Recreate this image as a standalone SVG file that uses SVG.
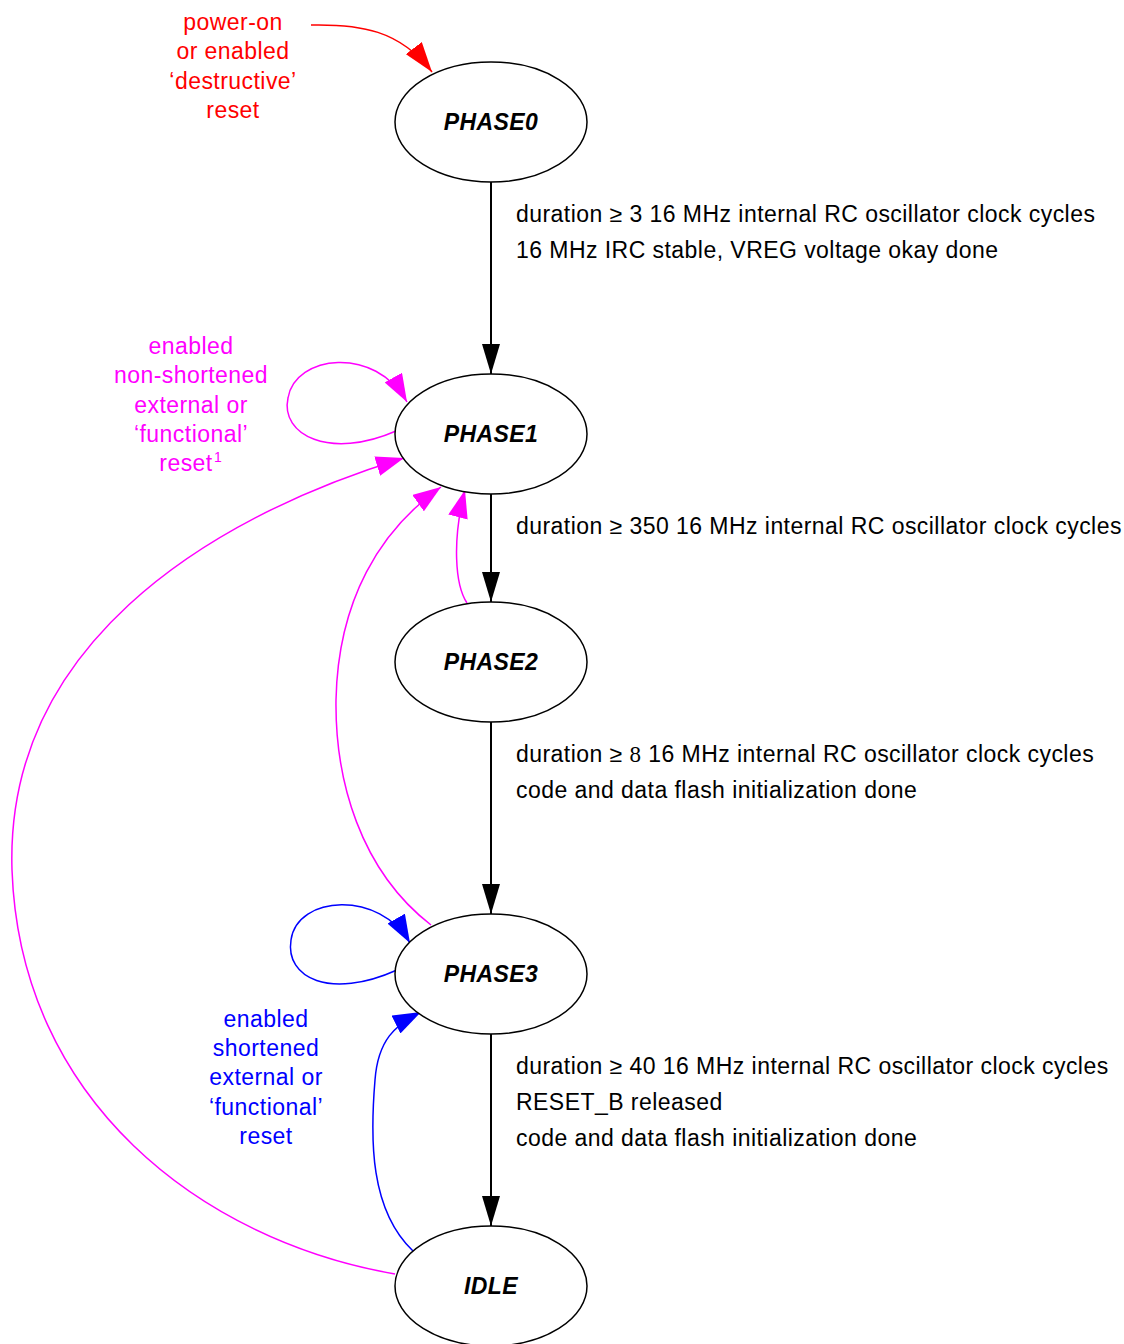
<svg xmlns="http://www.w3.org/2000/svg" width="1124" height="1344" viewBox="0 0 1124 1344">
  <style>
    text { letter-spacing: 0.45px; }
    .node ellipse { fill: #fff; stroke: #000; stroke-width: 1.5; }
    .node text { font-family: "Liberation Sans", Arial, sans-serif; font-size: 23px; font-weight: bold; font-style: italic; text-anchor: middle; fill: #000; }
    .lbl { font-family: "Liberation Sans", Arial, sans-serif; font-size: 23px; fill: #000; }
    .clbl { font-family: "Liberation Sans", Arial, sans-serif; font-size: 23px; text-anchor: middle; }
    .edge { fill: none; }
    .k { stroke: #000; stroke-width: 2; }
    .r { stroke: #f00; stroke-width: 1.5; }
    .m { stroke: #f0f; stroke-width: 1.5; }
    .b { stroke: #00f; stroke-width: 1.5; }
  </style>
  <defs>
    <marker id="ak" viewBox="0 0 30 18" refX="30" refY="9" markerWidth="30" markerHeight="18" markerUnits="userSpaceOnUse" orient="auto">
      <path d="M0,0 L30,9 L0,18 z" fill="#000"/>
    </marker>
    <marker id="ar" viewBox="0 0 30 20" refX="30" refY="10" markerWidth="30" markerHeight="20" markerUnits="userSpaceOnUse" orient="auto">
      <path d="M0,0 L30,10 L0,20 z" fill="#f00"/>
    </marker>
    <marker id="am" viewBox="0 0 28 20" refX="28" refY="10" markerWidth="28" markerHeight="20" markerUnits="userSpaceOnUse" orient="auto">
      <path d="M0,0 L28,10 L0,20 z" fill="#f0f"/>
    </marker>
    <marker id="ab" viewBox="0 0 28 20" refX="28" refY="10" markerWidth="28" markerHeight="20" markerUnits="userSpaceOnUse" orient="auto">
      <path d="M0,0 L28,10 L0,20 z" fill="#00f"/>
    </marker>
  </defs>

  <!-- connectors -->
  <g id="edges">
    <path class="edge k" d="M491,182 L491,374" marker-end="url(#ak)"/>
    <path class="edge k" d="M491,494 L491,602" marker-end="url(#ak)"/>
    <path class="edge k" d="M491,722 L491,914" marker-end="url(#ak)"/>
    <path class="edge k" d="M491,1034 L491,1226" marker-end="url(#ak)"/>

    <path class="edge r" d="M311,25 C360,24 400,30 432,72" marker-end="url(#ar)"/>

    <path class="edge m" d="M396,431 C330,460 280,435 288,398 C295,355 375,345 407,402" marker-end="url(#am)"/>
    <path class="edge m" d="M395,1274 C200,1240 20,1100 12,870 C5,650 200,520 404,458" marker-end="url(#am)"/>
    <path class="edge m" d="M431,925 C360,870 335,780 336,700 C338,600 380,530 441,487" marker-end="url(#am)"/>
    <path class="edge m" d="M467,603 C455,585 452,540 465,490" marker-end="url(#am)"/>

    <path class="edge b" d="M397,970 C330,1000 285,978 291,940 C297,895 380,890 410,943" marker-end="url(#ab)"/>
    <path class="edge b" d="M413,1251 C370,1210 370,1140 375,1080 C378,1040 395,1025 421,1012" marker-end="url(#ab)"/>
  </g>

  <!-- states -->
  <g id="phase0" class="node"><ellipse cx="491" cy="122" rx="96" ry="60"/><text x="491" y="130">PHASE0</text></g>
  <g id="phase1" class="node"><ellipse cx="491" cy="434" rx="96" ry="60"/><text x="491" y="442">PHASE1</text></g>
  <g id="phase2" class="node"><ellipse cx="491" cy="662" rx="96" ry="60"/><text x="491" y="670">PHASE2</text></g>
  <g id="phase3" class="node"><ellipse cx="491" cy="974" rx="96" ry="60"/><text x="491" y="982">PHASE3</text></g>
  <g id="idle" class="node"><ellipse cx="491" cy="1286" rx="96" ry="60"/><text x="491" y="1294">IDLE</text></g>

  <!-- transition conditions -->
  <g id="labels">
    <text class="lbl" x="516" y="222">duration ≥ 3 16 MHz internal RC oscillator clock cycles</text>
    <text class="lbl" x="516" y="258">16 MHz IRC stable, VREG voltage okay done</text>
    <text class="lbl" x="516" y="534">duration ≥ 350 16 MHz internal RC oscillator clock cycles</text>
    <text class="lbl" x="516" y="762">duration ≥ <tspan font-family="'Liberation Serif', serif">8</tspan> 16 MHz internal RC oscillator clock cycles</text>
    <text class="lbl" x="516" y="798">code and data flash initialization done</text>
    <text class="lbl" x="516" y="1074">duration ≥ 40 16 MHz internal RC oscillator clock cycles</text>
    <text class="lbl" x="516" y="1110">RESET_B released</text>
    <text class="lbl" x="516" y="1146">code and data flash initialization done</text>

    <text class="clbl" fill="#f00" x="233" y="30">power-on</text>
    <text class="clbl" fill="#f00" x="233" y="59">or enabled</text>
    <text class="clbl" fill="#f00" x="233" y="89">‘destructive’</text>
    <text class="clbl" fill="#f00" x="233" y="118">reset</text>

    <text class="clbl" fill="#f0f" x="191" y="354">enabled</text>
    <text class="clbl" fill="#f0f" x="191" y="383">non-shortened</text>
    <text class="clbl" fill="#f0f" x="191" y="413">external or</text>
    <text class="clbl" fill="#f0f" x="191" y="442">‘functional’</text>
    <text class="clbl" fill="#f0f" x="186" y="471">reset</text>
    <text fill="#f0f" font-family="'Liberation Sans', Arial, sans-serif" font-size="14" x="214" y="462">1</text>

    <text class="clbl" fill="#00f" x="266" y="1027">enabled</text>
    <text class="clbl" fill="#00f" x="266" y="1056">shortened</text>
    <text class="clbl" fill="#00f" x="266" y="1085">external or</text>
    <text class="clbl" fill="#00f" x="266" y="1115">‘functional’</text>
    <text class="clbl" fill="#00f" x="266" y="1144">reset</text>
  </g>
</svg>
